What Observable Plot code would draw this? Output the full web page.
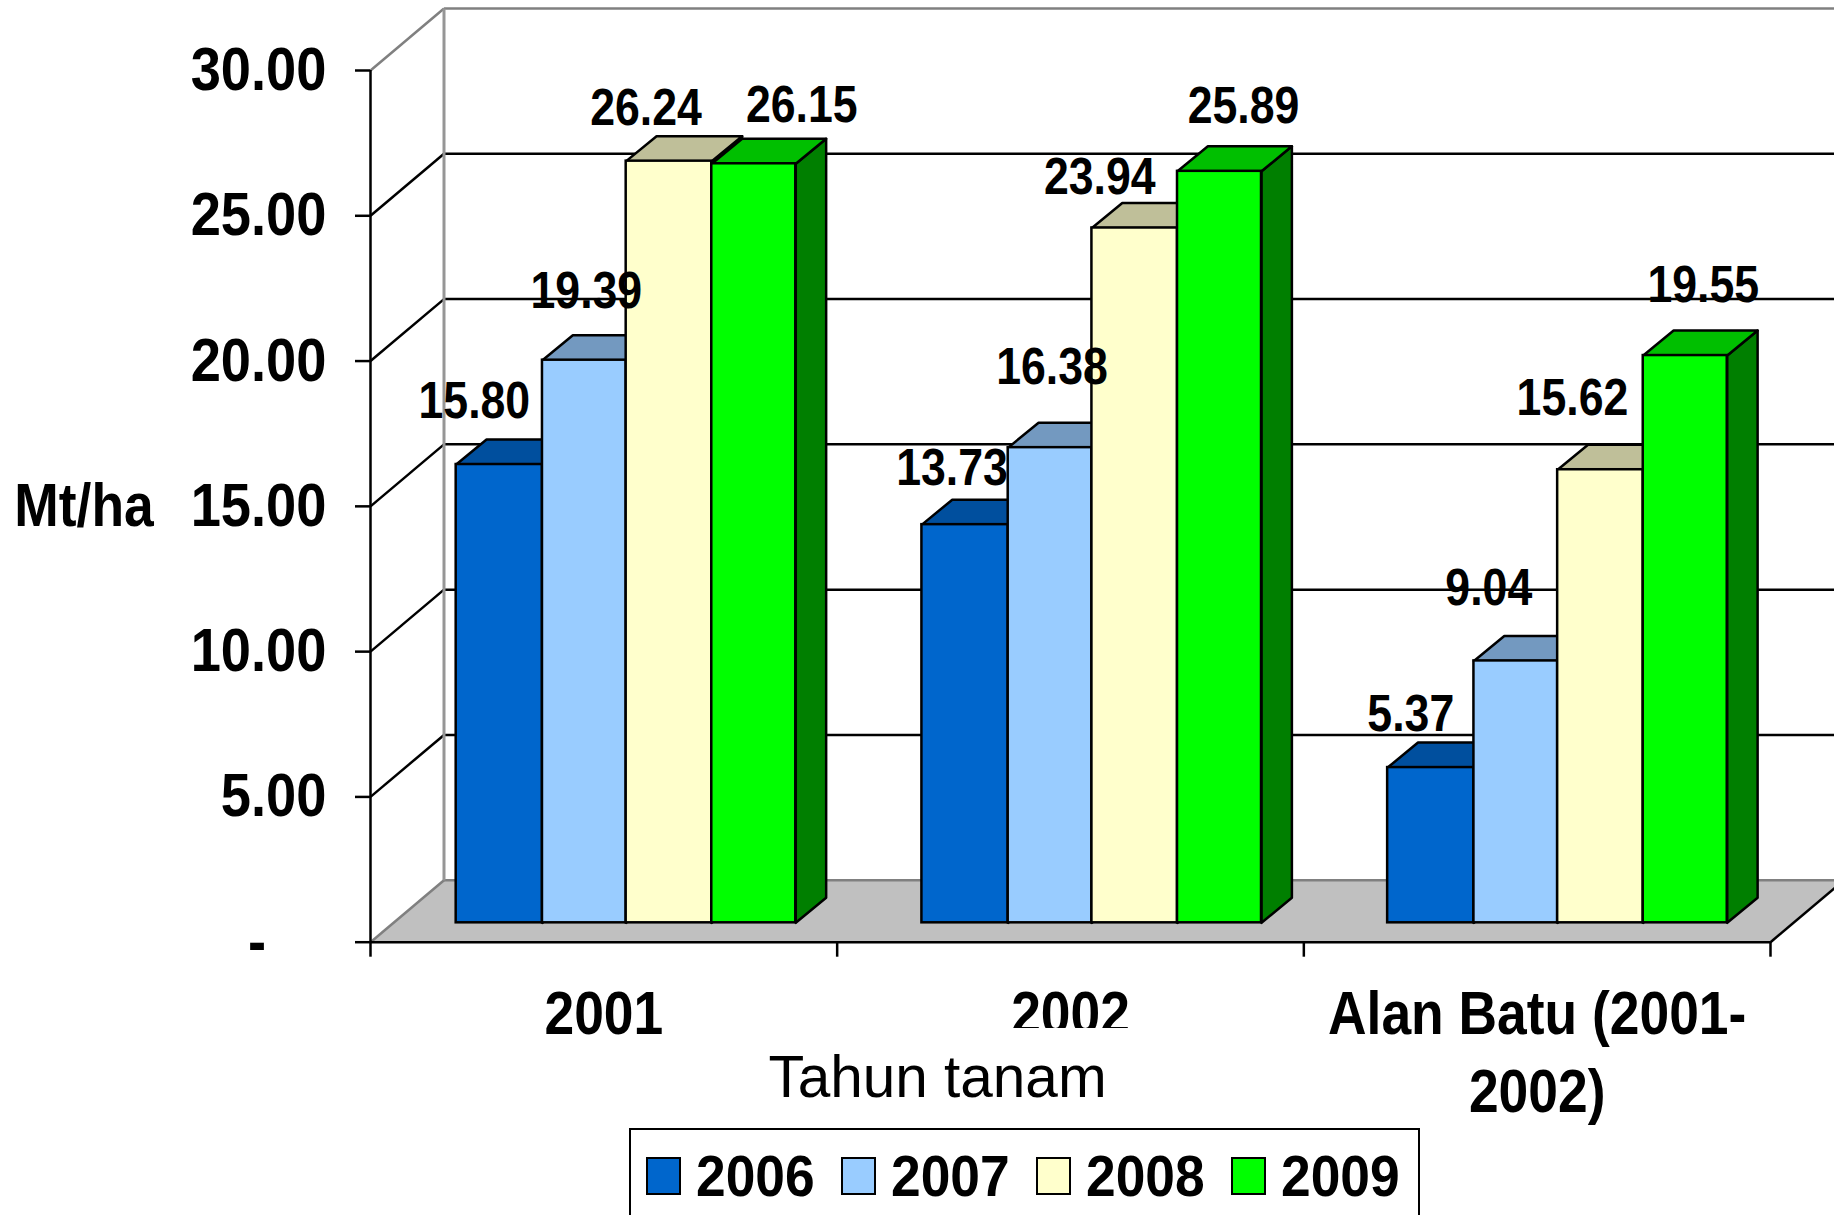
<!DOCTYPE html>
<html><head><meta charset="utf-8">
<script src="https://cdn.jsdelivr.net/npm/d3@7"></script>
<script src="https://cdn.jsdelivr.net/npm/@observablehq/plot@0.6"></script>
<style>
html,body{margin:0;padding:0;background:#fff;width:1834px;height:1215px;overflow:hidden}
#wrap{position:relative;width:1834px;height:1215px;overflow:hidden;font-family:"Liberation Sans",Arial,sans-serif}
#legend{position:absolute;left:629px;top:1128px;width:791px;height:120px;border:2px solid #000;box-sizing:border-box;background:#fff}
.sw{position:absolute;top:27px;width:35px;height:38px;border:2px solid #000;box-sizing:border-box}
.lb{position:absolute;top:13px;font-weight:bold;font-size:58px;line-height:66px;transform:scaleX(.92);transform-origin:left center}
</style></head><body><div id="wrap"><div id="chart"></div><div id="legend"></div></div>
<script>
const categories = ["2001", "2002", "Alan Batu (2001-\n2002)"];
const series = ["2006", "2007", "2008", "2009"];
const values2006 = [15.80, 13.73, 5.37];
const values2007 = [19.39, 16.38, 9.04];
const values2008 = [26.24, 23.94, 15.62];
const values2009 = [26.15, 25.89, 19.55];
const yTicks = [0, 5, 10, 15, 20, 25, 30];

// styles
const frontColors = ["#0066CC", "#99CCFF", "#FFFFCC", "#00FF00"];
const topColors = ["#004F9E", "#7399C0", "#BFBF99", "#00BF00"];
const sideColors = ["#004080", "#668099", "#808066", "#007F00"];

// manual data label offsets in px, one per series by category
const labelDx = [[-25, -13, -20], [2, 2, -27], [-23, -35, -28], [48, 24, 18]];
const labelDy = [[-46.5, -39.5, -36.5], [-52.5, -63.5, -55.5], [-36.5, -33.5, -54.5], [-41.5, -48.5, -53.5]];

// oblique projection and bar layout, in axis units
const wall = {x: 0.1575, y: 2.133};
const barDepth = {x: 0.0651, y: 0.86};
const barShift = {x: 0.1836, y: 0.667, top: 0.64};
const groupStep = 0.998;
const barEdges = [0, 0.1849, 0.3643, 0.5477, 0.7277];

const allValues = [values2006, values2007, values2008, values2009];
const poly = pts => [...pts, pts[0]].map(([x, y]) => ({x, y}));
const link = (x1, y1, x2, y2, stroke, strokeWidth) =>
  Plot.link([0], {x1: () => x1, y1: () => y1, x2: () => x2, y2: () => y2, stroke, strokeWidth});

const marks = [];
// floor
marks.push(Plot.line(poly([[0,0],[3,0],[3+wall.x,wall.y],[wall.x,wall.y]]), {x:"x", y:"y", fill:"#C0C0C0", stroke:"none"}));
// back wall grid
for (const v of yTicks) {
  const back = v + wall.y;
  const edge = v === 0 || v === 30;
  marks.push(link(wall.x, back, 3 + wall.x, back, edge ? "#808080" : "#000", 2.5));
  marks.push(link(0, v, wall.x, back, edge ? "#808080" : "#000", 2.5));
}
marks.push(link(wall.x, wall.y, wall.x, 30 + wall.y, "#969696", 3));
marks.push(link(3, 0, 3 + wall.x, wall.y, "#000", 2.5));
marks.push(Plot.ruleX([0], {y1: 0, y2: 30, stroke: "#000", strokeWidth: 2.5}));
marks.push(Plot.ruleY([0], {x1: 0, x2: 3, stroke: "#000", strokeWidth: 2.5}));
marks.push(Plot.axisY({ticks: yTicks, tickSize: 15, tickPadding: 29, strokeWidth: 2.5,
  tickFormat: d => d === 0 ? "-\u00a0\u00a0\u00a0\u00a0" : d.toFixed(2), fontSize: 61, fontWeight: "bold", label: null}));
marks.push(Plot.axisX({ticks: [0, 1, 2, 3], tickSize: 15, tickFormat: () => "", strokeWidth: 2.5, label: null}));

// bars
categories.forEach((cat, i) => {
  series.forEach((s, j) => {
    const v = allValues[j][i];
    const start = i * groupStep + barShift.x;
    const x1 = start + barEdges[j], x2 = start + barEdges[j + 1];
    const y0 = barShift.y, y1 = v + barShift.top;
    const common = {x: "x", y: "y", stroke: "#000", strokeWidth: 2.5, strokeLinejoin: "round"};
    marks.push(Plot.line(poly([[x2,y0],[x2+barDepth.x,y0+barDepth.y],[x2+barDepth.x,y1+barDepth.y],[x2,y1]]), {...common, fill: sideColors[j]}));
    marks.push(Plot.line(poly([[x1,y1],[x2,y1],[x2+barDepth.x,y1+barDepth.y],[x1+barDepth.x,y1+barDepth.y]]), {...common, fill: topColors[j]}));
    marks.push(Plot.rect([v], {x1: () => x1, x2: () => x2, y1: () => y0, y2: d => d + barShift.top, fill: frontColors[j], stroke: "#000", strokeWidth: 2.5}));
  });
});

// value labels
const labelFont = {fontSize: 51, fontWeight: "bold", fill: "#000", lineAnchor: "bottom"};
categories.forEach((cat, i) => {
  series.forEach((s, j) => {
    const v = allValues[j][i];
    const mid = i * groupStep + barShift.x + (barEdges[j] + barEdges[j + 1]) / 2;
    marks.push(Plot.text([v], {...labelFont, x: () => mid, y: d => d + barShift.top,
      text: d => d.toFixed(2), dx: labelDx[j][i], dy: labelDy[j][i]}));
  });
});

// category labels, then the title with its white box over them
marks.push(Plot.text(categories, {x: (d, i) => i + 0.5, y: () => 0, text: d => d, fontSize: 61, fontWeight: "bold",
  lineAnchor: "top", lineHeight: 1.28, dy: 36, fill: "#000"}));
marks.push(Plot.rect([0], {x1: () => 0.8, x2: () => 1.66, y1: () => -2.97, y2: () => -5.5, fill: "#fff"}));
marks.push(Plot.text(["Tahun tanam"], {x: () => 1.215, y: () => 0, text: d => d, fontSize: 58.5, fontWeight: "normal",
  lineAnchor: "bottom", dy: 155, fill: "#000"}));
marks.push(Plot.text(["Mt/ha"], {x: () => 0, y: () => 15, text: d => d, fontSize: 61, fontWeight: "bold",
  textAnchor: "middle", dx: -286.5, fill: "#000"}));

const chart = Plot.plot({
  width: 1834, height: 1215,
  marginLeft: 370, marginRight: 64, marginTop: 70, marginBottom: 273.3,
  style: {background: "#fff", fontFamily: '"Liberation Sans", Arial, sans-serif', overflow: "hidden"},
  x: {domain: [0, 3]},
  y: {domain: [0, 30]},
  marks
});
document.getElementById("chart").appendChild(chart);

// the source text is slightly condensed
chart.querySelectorAll("text").forEach(t => {
  const bold = getComputedStyle(t).fontWeight >= 600;
  if (!bold) return;
  const factor = t.closest('[aria-label="y-axis tick label"]') ? 0.89 : 0.875;
  const els = t.querySelectorAll("tspan").length ? t.querySelectorAll("tspan") : [t];
  els.forEach(e => {
    const w = e.getComputedTextLength();
    if (w > 0) { e.setAttribute("textLength", w * factor); e.setAttribute("lengthAdjust", "spacingAndGlyphs"); }
  });
});

// legend
const legend = document.getElementById("legend");
series.forEach((s, j) => {
  const sw = document.createElement("div");
  sw.className = "sw"; sw.style.left = (15 + j * 195) + "px"; sw.style.background = frontColors[j];
  legend.appendChild(sw);
  const lb = document.createElement("div");
  lb.className = "lb"; lb.style.left = (65 + j * 195) + "px"; lb.textContent = s;
  legend.appendChild(lb);
});
</script></body></html>
